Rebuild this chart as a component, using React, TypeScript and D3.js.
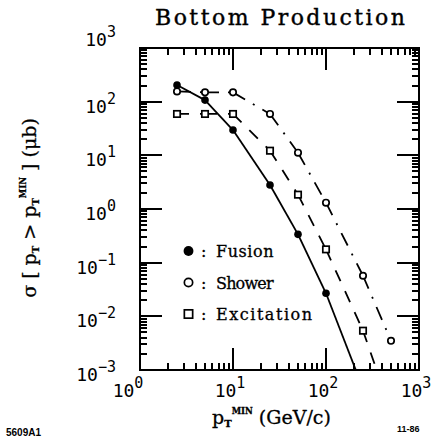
import React from 'react';
import * as d3 from 'd3';

// ---- data ----
const ptValues = [2.5, 5, 10, 25, 50, 100, 250, 500];
const fusion = [204, 107, 29.6, 2.8, 0.337, 0.0269, 0.00045];
const shower = [155, 149, 149, 59, 11.2, 1.31, 0.057, 0.0035];
const excitation = [59, 59, 59, 12.2, 1.85, 0.177, 0.0054, 0.00017];
const xTickValues = [1, 10, 100, 1000];
const xTickExps = ['0', '1', '2', '3'];
const yTickValues = [1e-3, 1e-2, 1e-1, 1, 10, 100, 1000];
const yTickExps = ['\u22123', '\u22122', '\u22121', '0', '1', '2', '3'];
const legendNames = ['Fusion', 'Shower', 'Excitation'];

const W = 433;
const H = 441;
const L = 140, R = 419, T = 48, B = 370;

const slab = '"DejaVu Serif", serif';
const tickFont = '"DejaVu Sans Mono", monospace';

const styles = [
  { dash: '', marker: 'filled' },
  { dash: '14,9,2,9', marker: 'circle' },
  { dash: '12,11', marker: 'square' },
];

function Marker({ kind, cx, cy, s = 1 }: { kind: string; cx: number; cy: number; s?: number }) {
  if (kind === 'filled') return <circle cx={cx} cy={cy} r={3.8 * s} fill="#000" />;
  if (kind === 'circle')
    return <circle cx={cx} cy={cy} r={3.2 * s} fill="#fff" stroke="#000" strokeWidth={1.7} />;
  const h = 3.2 * s;
  return <rect x={cx - h} y={cy - h} width={2 * h} height={2 * h} fill="#fff" stroke="#000" strokeWidth={1.7} />;
}

export default function App() {
  const x = d3.scaleLog().domain([1, 1000]).range([L, R]);
  const y = d3.scaleLog().domain([1e-3, 1e3]).range([B, T]);

  const series = [fusion, shower, excitation];

  const xMarks: { p: number; len: number }[] = [];
  const yMarks: { p: number; len: number }[] = [];
  for (const dec of [1, 10, 100]) {
    for (let k = 1; k <= 9; k++) {
      if (k === 1 && dec === 1) continue;
      xMarks.push({ p: Math.round(x(dec * k)), len: k === 1 ? 22 : 7 });
    }
  }
  for (const dec of [1e-3, 1e-2, 1e-1, 1, 10, 100]) {
    for (let k = 1; k <= 9; k++) {
      if (k === 1 && dec === 1e-3) continue;
      yMarks.push({ p: Math.round(y(dec * k)), len: k === 1 ? 22 : 7 });
    }
  }

  return (
    <svg width={W} height={H} style={{ position: 'absolute', left: 0, top: 0, background: '#fff' }}>
      <defs>
        <clipPath id="frame">
          <rect x={L} y={T} width={R - L} height={B - T} />
        </clipPath>
      </defs>

      {/* title */}
      <text x={155} y={25} fontFamily={slab} fontSize={22} stroke="#000" strokeWidth={0.4} textLength={250} lengthAdjust="spacing">
        Bottom Production
      </text>

      {/* ticks as thin filled bars */}
      <g fill="#000">
        {xMarks.map((t, i) => (
          <React.Fragment key={`x${i}`}>
            <rect x={t.p - 1} y={B - t.len} width={2} height={t.len} />
            <rect x={t.p - 1} y={T} width={2} height={t.len} />
          </React.Fragment>
        ))}
        {yMarks.map((t, i) => (
          <React.Fragment key={`y${i}`}>
            <rect x={L} y={t.p - 1} width={t.len} height={2} />
            <rect x={R - t.len} y={t.p - 1} width={t.len} height={2} />
          </React.Fragment>
        ))}
      </g>
      <rect x={L} y={T} width={R - L} height={B - T} fill="none" stroke="#000" strokeWidth={2} />

      {/* curves */}
      <g clipPath="url(#frame)">
        {series.map((vals, si) =>
          vals.slice(0, -1).map((v, i) => {
            const p = d3.line()([
              [x(ptValues[i]), y(v)],
              [x(ptValues[i + 1]), y(vals[i + 1])],
            ]) as string;
            return (
              <path
                key={`s${si}-${i}`}
                d={p}
                fill="none"
                stroke="#000"
                strokeWidth={1.8}
                strokeDasharray={styles[si].dash || undefined}
              />
            );
          })
        )}
      </g>

      {/* markers */}
      <g>
        {series.map((vals, si) =>
          vals.map((v, i) =>
            v >= 1e-3 ? <Marker key={`m${si}-${i}`} kind={styles[si].marker} cx={x(ptValues[i])} cy={y(v)} /> : null
          )
        )}
      </g>

      {/* legend */}
      {legendNames.map((name, i) => {
        const ly = 251 + i * 31.5;
        return (
          <g key={name}>
            <Marker kind={styles[i].marker} cx={188.5} cy={ly} s={1.3} />
            <text x={201} y={ly + 6} fontFamily={slab} fontSize={16} stroke="#000" strokeWidth={0.3}>:</text>
            <text x={216} y={ly + 6} fontFamily={slab} fontSize={16} stroke="#000" strokeWidth={0.3} textLength={name.length * 9.6} lengthAdjust="spacing">{name}</text>
          </g>
        );
      })}

      {/* y tick labels */}
      {yTickValues.map((v, i) => {
        const top = i === yTickValues.length - 1;
        return (
          <text key={`yl${i}`} x={116} y={y(v) + (top ? -2 : 11)} fontFamily={tickFont} fontSize={18} textAnchor="end">
            <tspan>10</tspan>
            <tspan dy={-9} fontSize={15}>{yTickExps[i]}</tspan>
          </text>
        );
      })}

      {/* x tick labels */}
      {xTickValues.map((v, i) => (
        <text key={`xl${i}`} x={x(v) - (i === 0 ? 12 : 3)} y={397} fontFamily={tickFont} fontSize={18} textAnchor="middle">
          <tspan>10</tspan>
          <tspan dy={-9} fontSize={15}>{xTickExps[i]}</tspan>
        </text>
      ))}

      {/* x axis title */}
      <text x={212} y={424} fontFamily={slab} fontSize={19} stroke="#000" strokeWidth={0.3}>
        <tspan>p</tspan>
        <tspan dy={3} fontSize={10} fontWeight="bold">T</tspan>
        <tspan dy={-13} fontSize={8.5} fontWeight="bold">MIN</tspan>
        <tspan dy={10}>{'\u00a0(GeV/c)'}</tspan>
      </text>

      {/* y axis title */}
      <text transform="translate(36,208) rotate(-90)" fontFamily={slab} fontSize={19} stroke="#000" strokeWidth={0.3} textAnchor="middle">
        <tspan>{'\u03c3 [ p'}</tspan>
        <tspan dy={3} fontSize={10} fontWeight="bold">T</tspan>
        <tspan dy={-3}>{' > p'}</tspan>
        <tspan dy={3} fontSize={10} fontWeight="bold">T</tspan>
        <tspan dy={-13} fontSize={8.5} fontWeight="bold">MIN</tspan>
        <tspan dy={10}>{'\u00a0] (\u03bcb)'}</tspan>
      </text>

      {/* plate labels */}
      <text x={6} y={436} fontFamily='"Liberation Sans", Arial, sans-serif' fontSize={10} fontWeight="bold">5609A1</text>
      <text x={397} y={432} fontFamily='"Liberation Sans", Arial, sans-serif' fontSize={9} fontWeight="bold">11-86</text>
    </svg>
  );
}
